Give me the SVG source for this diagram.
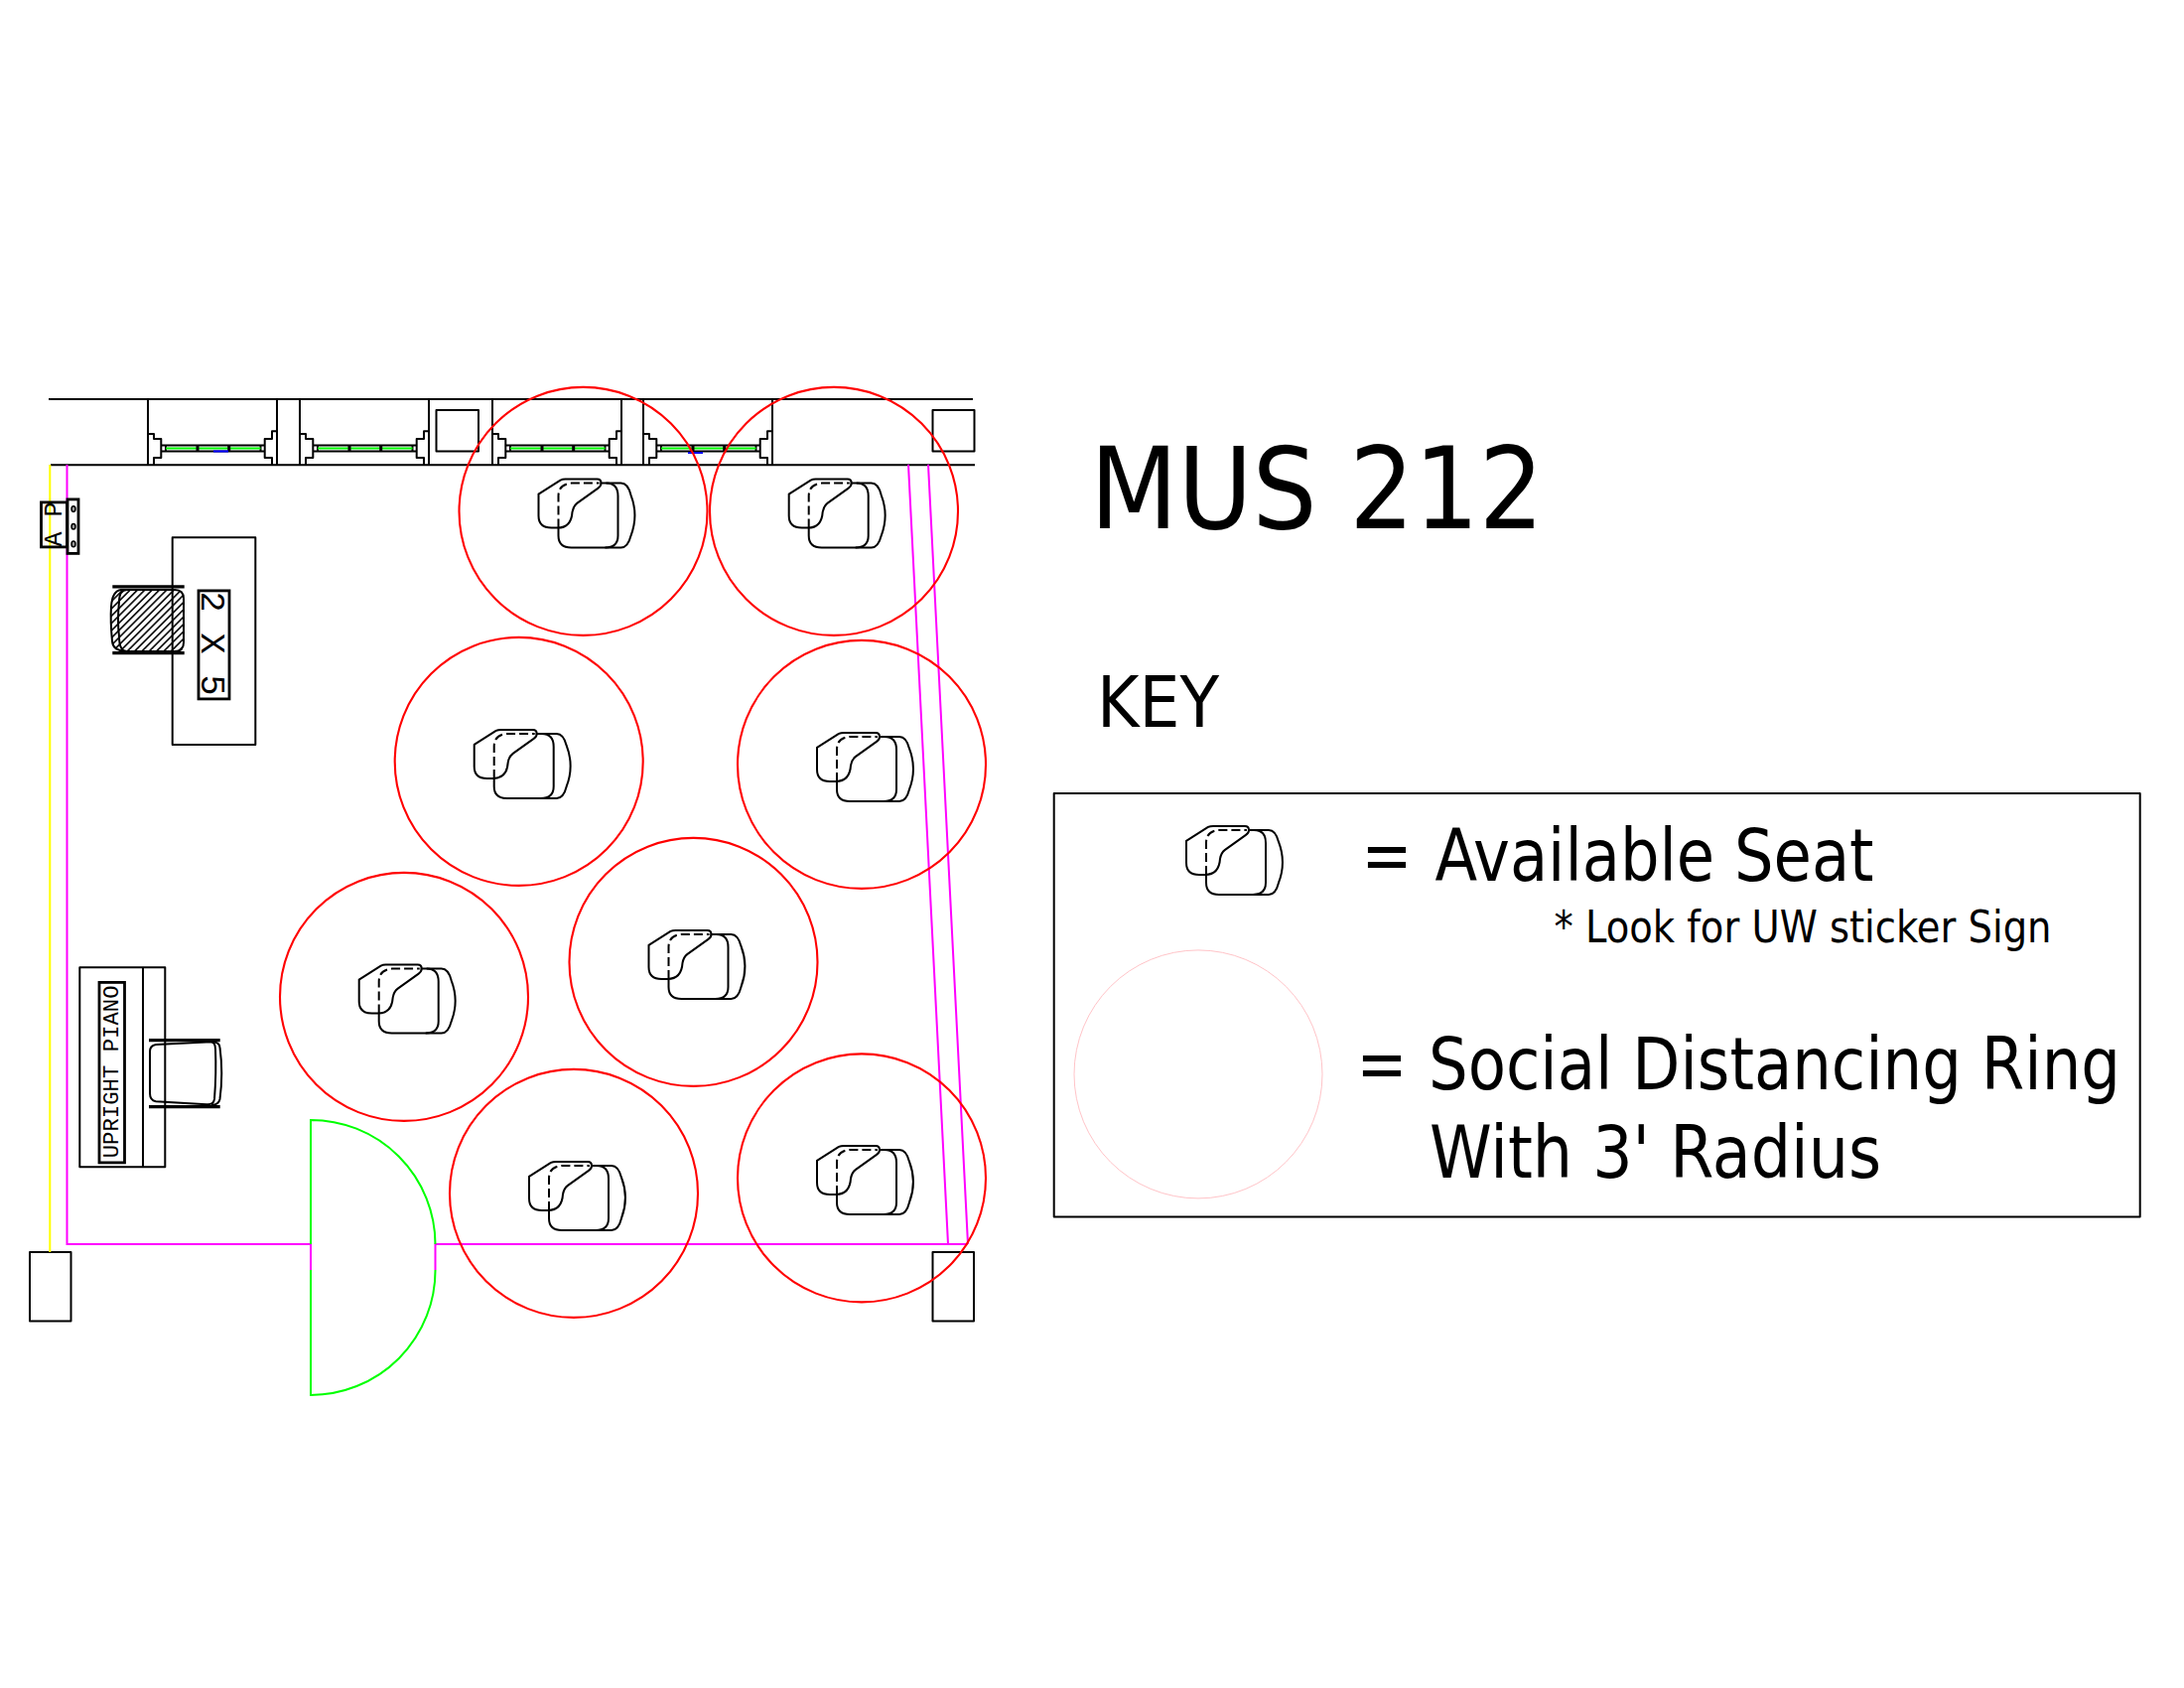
<svg xmlns="http://www.w3.org/2000/svg" xmlns:xlink="http://www.w3.org/1999/xlink" width="2200" height="1700" viewBox="0 0 2200 1700">
<style>
.k{fill:none;stroke:#000;stroke-width:2;stroke-linejoin:round}
.kt{fill:none;stroke:#000;stroke-width:2.8}
.r{fill:none;stroke:#f00;stroke-width:2.1}
.m{fill:none;stroke:#f0f;stroke-width:2}
.g{fill:none;stroke:#0f0;stroke-width:2}
.y{fill:none;stroke:#ff0;stroke-width:2}
.b{fill:none;stroke:#00f;stroke-width:2}
.d{stroke-dasharray:9 4}
.t{font-family:"DejaVu Sans Condensed","DejaVu Sans",sans-serif;fill:#000}
.c{font-family:"Liberation Mono",monospace;fill:#000}
</style>
<defs>
<pattern id="hatch" patternUnits="userSpaceOnUse" width="5.2" height="5.2" patternTransform="rotate(45)"><line x1="2.6" y1="0" x2="2.6" y2="5.2" stroke="#000" stroke-width="1.6"/></pattern>
<g id="seat">
<path class="k" d="M25,36 L47,22 Q49,21 52,21 L84,21 Q88,21 88,25 Q88,28 85,30 L64,45 Q60,48 59,54 Q58,70 44,70 L38,70 Q25,70 25,58 Z"/>
<path class="k" d="M45,70 L45,78 Q45,90 58,90 L92,90 Q105,90 105,78 L105,38 Q105,25 93,25 L87,25"/>
<path class="k" d="M93,25 L108,25 Q115,25 118,37 C123,50 123,65 118,78 Q115,90 108,90 L92,90"/>
<path class="k d" d="M45,70 L45,38 Q45,26 58,25 L86,25"/>
</g>
<g id="win">
<path class="k" d="M0,436 L6,436 L6,441 L13.3,441 L13.3,460 L6,460 L6,467"/>
<path class="k" d="M130,433.3 L125,433.3 L125,441 L117.7,441 L117.7,460 L125,460 L125,467"/>
<path class="k" d="M13.3,447.7 H117.7 M13.3,453.7 H117.7 M18,447.7 V453.7 M113.5,447.7 V453.7"/>
<path class="g" d="M18,450.7 H113.5"/>
<path d="M50,447.7 V453.7 M81.7,447.7 V453.7" stroke="#000" stroke-width="3" fill="none"/>
</g>
</defs>
<rect width="2200" height="1700" fill="#fff"/>
<g transform="translate(0,0.9)">
<g id="walls">
<path class="k" d="M49,401 H980 M51,467.3 H982"/>
<path class="k" d="M149,401 V467 M279,401 V467 M302,401 V467 M432,401 V467 M496,401 V467 M626,401 V467 M648,401 V467 M778,401 V467"/>
<rect class="k" x="439.5" y="412" width="42.5" height="41.5"/>
<rect class="k" x="939.5" y="412" width="42" height="41.5"/>
<rect class="k" x="30" y="1260" width="41.5" height="69.5"/>
<rect class="k" x="939.5" y="1260" width="41.5" height="69.5"/>
<path class="y" d="M50.3,467 V1260"/>
<path class="m" d="M67.5,467 V1252 H313 V1278 M438.5,1278 V1252 H975 M915,467 L955,1252 M935,467 L975,1252"/>
</g>
<g id="windows">
<use href="#win" x="149"/><use href="#win" x="302"/><use href="#win" x="496"/><use href="#win" x="648"/>
<path class="b" d="M215,453.7 H230 M693,455 H708"/>
</g>
<g id="door">
<path class="g" d="M313,1252 V1127 A125.5,125.5 0 0 1 438.5,1252 M313,1278 V1404 A125.5,125.5 0 0 0 438.5,1278"/>
</g>
<g id="ap">
<rect class="kt" x="41.5" y="505" width="26" height="45"/>
<rect class="kt" x="68" y="502" width="11" height="54.5"/>
<g fill="#999" stroke="#000" stroke-width="1.5"><ellipse cx="74" cy="511.7" rx="2" ry="2.8"/><ellipse cx="74" cy="529.3" rx="2" ry="2.8"/><ellipse cx="74" cy="547" rx="2" ry="2.8"/></g>
<text class="c" font-size="25" text-anchor="middle" transform="translate(61.5,527) rotate(-90)">A P</text>
</g>
<g id="desk">
<rect class="k" x="173.7" y="540.3" width="83.6" height="208.7"/>
<rect class="kt" x="200" y="594" width="31" height="109"/>
<text class="c" font-size="35" text-anchor="middle" transform="translate(203,647) rotate(90)">2 X 5</text>
</g>
<g id="teacher-chair">
<path d="M122,593 H176 Q185,593 185,602 V646 Q185,655 176,655 H124 Q114,655 113,645 Q111,624 112,610 Q113,594 122,593 Z" fill="url(#hatch)"/>
<path class="k" d="M128,593 H176 Q185,593 185,602 V646 Q185,655 176,655 H128 Q120,655 120,640 Q118,624 120,605 Q120,593 128,593 Z"/>
<path class="k" d="M128,593 H122 Q113,594 112,610 Q111,624 113,645 Q114,655 128,655"/>
<path d="M113.3,590 H185.7 M113.3,656.7 H185.7" stroke="#000" stroke-width="3.4" fill="none"/>
</g>
<g id="piano">
<rect class="k" x="80.3" y="973.3" width="86" height="201"/>
<path class="k" d="M144,973.3 V1174.3"/>
<rect class="kt" x="100" y="988.5" width="25.5" height="181.5"/>
<text class="c" font-size="22.3" text-anchor="middle" transform="translate(119.3,1078.5) rotate(-90)">UPRIGHT PIANO</text>
</g>
<g id="piano-chair">
<path class="k" d="M151,1058 Q151,1052 157,1051 L213,1048.3 Q217,1049 217,1056 Q218,1080 216,1106 Q215,1112 208,1111.3 L157,1108.3 Q151,1107 151,1100 Z"/>
<path class="k" d="M213,1048.3 Q221,1048 221.5,1054 Q225,1080 221.5,1106 Q220,1112 213,1111.7"/>
<path d="M150,1046.7 H221.7 M150,1113.7 H221.7" stroke="#000" stroke-width="3.4" fill="none"/>
</g>
<g id="seat-1"><use href="#seat" x="517.5" y="460.7"/><circle class="r" cx="587.5" cy="514" r="125"/></g>
<g id="seat-2"><use href="#seat" x="769.7" y="460.7"/><circle class="r" cx="840" cy="514" r="125"/></g>
<g id="seat-3"><use href="#seat" x="452.7" y="713"/><circle class="r" cx="522.7" cy="766" r="125"/></g>
<g id="seat-4"><use href="#seat" x="798" y="716"/><circle class="r" cx="868" cy="769" r="125"/></g>
<g id="seat-5"><use href="#seat" x="628.5" y="915"/><circle class="r" cx="698.5" cy="968" r="125"/></g>
<g id="seat-6"><use href="#seat" x="336.7" y="949.7"/><circle class="r" cx="407" cy="1003" r="125"/></g>
<g id="seat-7"><use href="#seat" x="508" y="1148"/><circle class="r" cx="578" cy="1201" r="125"/></g>
<g id="seat-8"><use href="#seat" x="798" y="1132"/><circle class="r" cx="868" cy="1185.5" r="125"/></g>
<g id="title">
<text class="t" x="1098" y="531.5" font-size="114">MUS 212</text>
<text class="t" x="1105" y="731.5" font-size="72">KEY</text>
</g>
<g id="key">
<rect class="k" x="1061.7" y="798" width="1094" height="426.5"/>
<use href="#seat" x="1170" y="810"/>
<circle cx="1207" cy="1081" r="125" fill="none" stroke="#ffc4c8" stroke-width="1"/>
<text class="t" x="1371.5" y="886" font-size="73" textLength="51" lengthAdjust="spacingAndGlyphs">=</text>
<text class="t" x="1445.5" y="886" font-size="73" textLength="442" lengthAdjust="spacingAndGlyphs">Available Seat</text>
<text class="t" x="1565.5" y="948" font-size="44" textLength="501" lengthAdjust="spacingAndGlyphs">* Look for UW sticker Sign</text>
<text class="t" x="1366.5" y="1096.5" font-size="73" textLength="51" lengthAdjust="spacingAndGlyphs">=</text>
<text class="t" x="1439" y="1096.5" font-size="73" textLength="697" lengthAdjust="spacingAndGlyphs">Social Distancing Ring</text>
<text class="t" x="1440" y="1185" font-size="73" textLength="455" lengthAdjust="spacingAndGlyphs">With 3' Radius</text>
</g>
</g>
</svg>
